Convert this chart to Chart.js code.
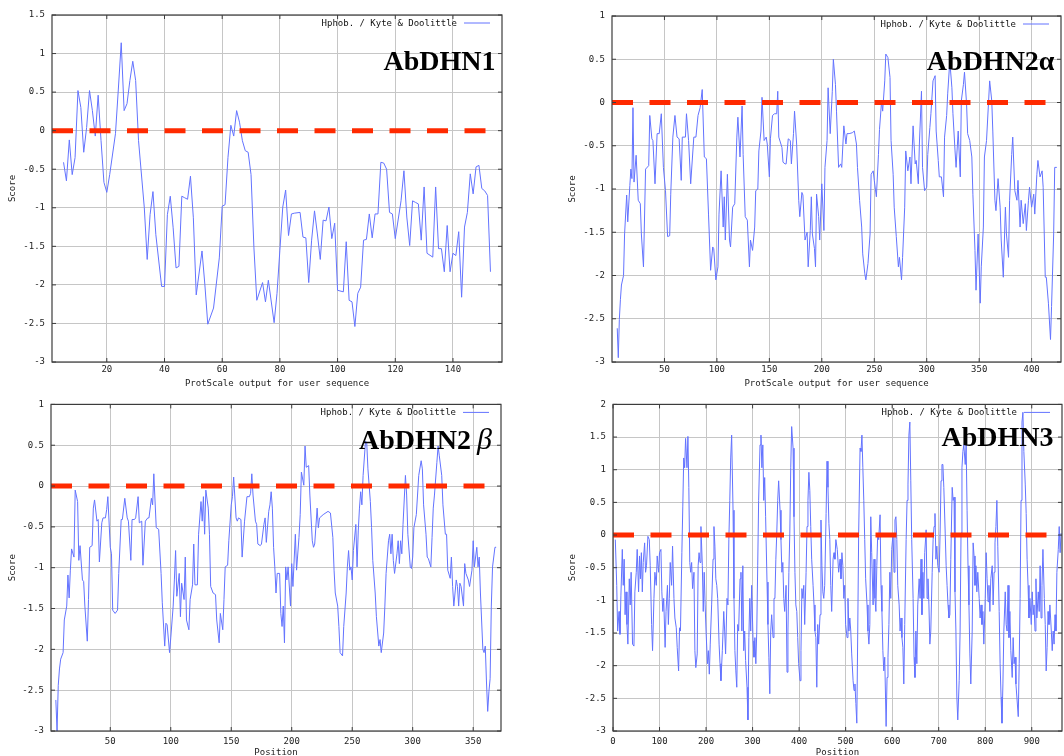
<!DOCTYPE html>
<html>
<head>
<meta charset="utf-8">
<script src="https://cdn.jsdelivr.net/npm/chart.js@4.4.1/dist/chart.umd.min.js"></script>
<style>
  html, body { margin: 0; padding: 0; background: #fff; overflow: hidden; }
  #page { position: relative; width: 1064px; height: 756px; overflow: hidden; background: #fff; }
  #page canvas { position: absolute; }
</style>
</head>
<body>
<div id="page">
  <canvas id="dhn1" width="532" height="392" style="left:0;top:0;width:532px;height:392px"></canvas>
  <canvas id="dhn2a" width="504" height="392" style="left:560px;top:0;width:504px;height:392px"></canvas>
  <canvas id="dhn2b" width="532" height="370" style="left:0;top:392px;width:532px;height:370px"></canvas>
  <canvas id="dhn3" width="504" height="370" style="left:560px;top:392px;width:504px;height:370px"></canvas>
</div>
<script>
// Kyte & Doolittle hydropathy (position, score)
const zeroLevel = 0;

const dhn1Pos = [5,6,7,8,9,10,11,12,13,14,15,16,17,18,19,20,21,
  23,24,25,26,27,28,29,30,31, 33,34,35,36,37,
  39,40,41,42,43,44,45,46,47,48,49,50,51, 53,54,55, 57,
  59,60,61,62,63,64,65,66,67,68,69,70,71,72, 74,75,76,
  78,79,80,81,82,83,84,85, 87,88,89,90,91,92,93,94,95,96,97,98,99,100,
  102,103,104,105,106,107,108,109,110,111,112,113,114,115,116,117,118,119,120,
  122,123,124,125,126,127,128,129,130,131,
  133,134,135,136,137,138,139,140,141,142,143,144,145,146,147,148,149,150,151,152,153];
const dhn1Score = [-0.41,-0.65,-0.12,-0.57,-0.35,0.52,0.3,-0.28,0.04,0.52,0.26,-0.07,0.46,-0.13,-0.67,-0.8,-0.57,
  -0.04,0.54,1.14,0.26,0.35,0.65,0.9,0.65,-0.13, -1.0,-1.67,-1.09,-0.79,-1.35,
  -2.02,-2.02,-1.09,-0.85,-1.26,-1.78,-1.76,-0.85,-0.87,-0.89,-0.59,-1.13,-2.13, -1.56,-2.0,-2.51, -2.3,
  -1.65,-0.98,-0.96,-0.35,0.07,-0.07,0.26,0.11,-0.13,-0.26,-0.28,-0.57,-1.52,-2.2, -1.97,-2.22,-1.94,
  -2.49,-2.11,-1.55,-0.99,-0.77,-1.36,-1.08,-1.07, -1.06,-1.38,-1.39,-1.97,-1.42,-1.04,-1.34,-1.67,-1.16,-1.17,-0.99,-1.4,-1.2,-2.07,
  -2.09,-1.44,-2.2,-2.22,-2.54,-2.11,-2.03,-1.42,-1.41,-1.08,-1.39,-1.08,-1.08,-0.41,-0.42,-0.5,-1.06,-1.08,-1.4,
  -0.91,-0.52,-1.12,-1.49,-0.91,-0.93,-0.95,-1.42,-0.73,-1.59,
  -1.64,-0.73,-1.53,-1.53,-1.83,-1.23,-1.83,-1.59,-1.62,-1.31,-2.16,-1.25,-1.06,-0.56,-0.82,-0.47,-0.45,-0.75,-0.78,-0.84,-1.83];

const dhn2aPos = [
  5,6,7,8,9,11,12,14,15,17,
  18,19,20,21,23,25,27,28,30,32,
  35,36,38,39,41,43,45,47,49,51,
  53,55,56,58,60,62,64,66,67,70,
  71,73,75,78,80,82,84,86,88,90,
  92,94,96,97,99,101,102,104,106,107,
  108,110,112,113,115,117,119,120,122,124,
  125,127,129,131,132,134,136,137,139,140,
  142,143,145,147,148,150,151,153,155,157,
  158,159,162,163,165,166,168,170,171,173,
  174,176,178,179,181,182,184,186,187,189,
  190,191,193,194,195,197,198,200,202,203,
  205,206,208,210,211,213,214,216,218,219,
  221,223,224,226,229,231,233,234,236,238,
  239,241,242,244,246,247,249,250,252,254,
  255,257,258,260,261,263,265,266,268,269,
  271,273,274,276,277,279,280,282,284,285,
  287,289,290,292,293,295,296,298,300,301,
  303,304,306,308,309,311,312,314,316,317,
  319,320,322,324,325,327,328,330,332,333,
  335,336,338,339,341,343,344,346,347,349,
  351,352,354,355,357,359,360,362,363,365,
  366,368,370,371,373,375,376,378,379,381,
  382,384,386,387,389,390,392,394,395,397,
  398,400,402,403,405,406,408,410,411,413,
  414,416,418,419,421,422,424];
const dhn2aScore = [
  -2.61,-2.95,-2.51,-2.28,-2.11,-2.0,-1.52,-1.07,-1.38,-0.96,
  -0.77,-0.88,-0.06,-0.92,-0.61,-1.13,-1.17,-1.52,-1.9,-0.77,
  -0.73,-0.15,-0.42,-0.44,-0.94,-0.36,-0.36,-0.13,-0.75,-1.02,
  -1.55,-1.54,-1.06,-0.4,-0.15,-0.4,-0.42,-0.9,-0.4,-0.4,
  -0.13,-0.44,-0.94,-0.4,-0.4,-0.15,-0.06,0.15,-0.63,-0.65,
  -1.29,-1.94,-1.67,-1.69,-2.05,-1.9,-1.29,-0.79,-1.44,-1.09,
  -1.59,-0.83,-1.59,-1.67,-1.21,-1.17,-0.4,-0.17,-0.63,-0.04,
  -0.6,-1.32,-1.36,-1.9,-1.59,-1.71,-1.44,-1.02,-1.0,-0.56,
  -0.33,0.06,-0.44,-0.4,-0.48,-0.86,-0.42,-0.15,-0.13,-0.13,
  0.13,-0.4,-0.52,-0.69,-0.71,-0.71,-0.42,-0.44,-0.71,-0.36,
  -0.1,-0.48,-1.13,-1.32,-1.04,-1.07,-1.59,-1.5,-1.9,-1.48,
  -1.09,-1.52,-1.69,-1.9,-1.06,-1.32,-1.59,-0.94,-1.48,-0.75,
  -0.44,0.17,-0.36,0.13,0.5,0.21,-0.1,-0.75,-0.71,-0.75,
  -0.27,-0.48,-0.36,-0.36,-0.35,-0.33,-0.48,-0.75,-1.13,-1.44,
  -1.75,-1.98,-2.05,-1.86,-1.52,-0.83,-0.79,-0.9,-1.09,-0.6,
  -0.31,0.02,-0.1,0.25,0.56,0.52,0.29,-0.44,-0.83,-1.21,
  -1.55,-1.9,-1.79,-2.05,-1.79,-1.21,-0.56,-0.79,-0.63,-0.94,
  -0.27,-0.71,-0.67,-0.94,-0.48,0.13,-0.75,-1.02,-0.98,-0.6,
  -0.29,-0.13,0.25,0.31,-0.33,-0.67,-0.86,-0.86,-1.09,-0.4,
  -0.15,0.1,0.48,0.17,-0.13,-0.56,-0.75,-0.33,-0.86,0.02,
  0.21,0.35,-0.02,-0.36,-0.44,-0.63,-1.06,-1.71,-2.17,-1.52,
  -2.32,-1.9,-1.44,-0.63,-0.44,0.02,0.25,0.02,-0.33,-1.13,
  -1.25,-0.88,-1.21,-1.59,-2.02,-1.21,-1.52,-1.79,-1.13,-0.6,
  -0.4,-1.02,-1.13,-0.9,-1.44,-1.13,-1.4,-1.17,-1.48,-1.13,
  -0.98,-1.21,-1.06,-1.29,-0.83,-0.67,-0.86,-0.79,-0.98,-2.02,
  -2.02,-2.32,-2.74,-2.36,-1.52,-0.75,-0.75];

const dhn2bPos = [
  5,6,7,8,9,11,12,14,15,16,
  17,18,20,21,23,24,25,27,28,29,
  31,32,33,35,36,37,39,40,41,43,
  44,46,47,48,50,51,52,54,56,57,
  59,60,62,64,65,67,68,70,71,73,
  74,76,77,79,81,82,84,85,86,88,
  90,92,93,95,96,97,99,100,102,103,
  104,105,107,108,109,111,112,113,115,116,
  118,119,120,122,123,125,126,127,128,129,
  131,132,133,135,137,138,140,141,143,144,
  145,147,148,150,151,152,154,155,156,158,
  159,161,163,165,166,167,168,170,171,172,
  174,175,177,178,179,181,182,183,184,185,
  186,187,188,190,191,192,193,194,195,196,
  197,199,200,201,203,204,206,207,208,210,
  211,212,214,215,217,218,219,221,222,223,
  226,230,232,234,235,236,238,239,240,242,
  243,245,246,247,248,249,250,251,253,254,
  255,256,257,258,259,261,262,263,265,266,
  267,269,270,272,273,274,276,277,278,280,
  281,282,283,284,285,287,288,289,290,291,
  292,294,295,296,298,299,300,301,303,304,
  305,307,308,309,311,312,313,315,316,317,
  318,320,321,322,324,325,327,328,329,331,
  332,333,334,336,337,338,339,340,342,343,
  344,346,347,349,350,351,353,354,355,356,
  358,359,360,361,362,363,364,365,366,368,
  369];
const dhn2bScore = [
  -2.62,-3.0,-2.44,-2.24,-2.12,-2.04,-1.64,-1.47,-1.09,-1.37,
  -1.03,-0.77,-0.87,-0.05,-0.19,-0.91,-0.73,-1.15,-1.17,-1.47,
  -1.9,-1.39,-0.75,-0.73,-0.27,-0.17,-0.43,-0.41,-0.93,-0.45,
  -0.39,-0.39,-0.29,-0.13,-0.75,-0.83,-1.52,-1.56,-1.52,-1.07,
  -0.41,-0.41,-0.15,-0.39,-0.43,-0.91,-0.41,-0.41,-0.39,-0.13,
  -0.45,-0.43,-0.97,-0.43,-0.39,-0.39,-0.15,-0.23,0.15,-0.51,
  -0.53,-1.07,-1.43,-1.96,-1.68,-1.7,-2.04,-1.86,-1.47,-1.15,
  -0.79,-1.35,-1.07,-1.6,-1.19,-1.39,-0.87,-1.64,-1.76,-1.39,
  -1.21,-0.71,-1.21,-1.21,-0.59,-0.19,-0.43,-0.13,-0.59,-0.05,
  -0.27,-0.59,-1.23,-1.31,-1.33,-1.64,-1.92,-1.56,-1.76,-1.39,
  -0.99,-0.97,-0.67,-0.23,-0.13,0.11,-0.39,-0.43,-0.39,-0.41,
  -0.87,-0.43,-0.13,-0.13,-0.09,0.15,-0.11,-0.43,-0.47,-0.71,
  -0.73,-0.71,-0.47,-0.39,-0.69,-0.31,-0.23,-0.07,-0.27,-0.75,
  -0.99,-1.31,-1.07,-1.07,-1.56,-1.72,-1.47,-1.92,-0.99,-1.15,
  -0.99,-1.47,-0.95,-1.23,-0.59,-1.03,-0.63,-0.35,0.17,0.01,
  0.49,0.23,0.25,-0.11,-0.67,-0.75,-0.71,-0.27,-0.51,-0.39,
  -0.35,-0.31,-0.33,-0.63,-1.03,-1.31,-1.47,-1.72,-2.04,-2.08,
  -1.72,-1.31,-0.99,-0.79,-1.03,-0.99,-1.15,-0.79,-0.47,-0.99,
  -0.55,-0.27,-0.07,-0.23,0.13,0.55,0.53,0.21,-0.19,-0.51,
  -0.91,-1.31,-1.6,-1.96,-1.88,-2.04,-1.8,-1.47,-1.07,-0.67,
  -0.59,-0.83,-0.59,-0.91,-1.07,-0.83,-0.67,-0.95,-0.67,-0.83,
  -0.47,0.13,-0.11,-0.59,-0.99,-1.01,-0.87,-0.51,-0.35,-0.11,
  0.13,0.31,0.21,-0.23,-0.59,-0.87,-0.89,-0.99,-0.63,-0.27,
  -0.11,0.29,0.49,0.37,0.13,-0.23,-0.59,-0.59,-1.03,-1.13,
  -0.87,-1.23,-1.47,-1.15,-1.23,-1.47,-1.19,-1.23,-1.47,-0.95,
  -1.07,-1.15,-1.23,-1.03,-0.67,-0.99,-0.75,-0.99,-0.87,-1.31,
  -2.0,-2.04,-1.96,-2.4,-2.76,-2.52,-2.36,-1.47,-0.99,-0.75,
  -0.75];

const dhn3Pos = [
  5,8,10,13,15,17,20,22,24,26,
  28,30,32,35,37,39,42,45,47,50,
  52,55,57,59,61,63,65,68,70,72,
  75,78,80,83,85,88,90,93,95,98,
  100,103,105,107,109,112,114,117,119,121,
  123,126,128,131,133,136,138,141,143,145,
  148,150,152,154,156,159,161,163,165,167,
  169,171,174,176,178,181,183,185,187,189,
  192,194,196,198,200,203,205,207,209,212,
  215,217,219,221,223,225,228,230,232,235,
  238,240,242,245,247,249,251,253,255,258,
  260,262,264,266,268,270,273,275,277,279,
  281,283,285,288,290,292,294,296,298,301,
  303,305,307,309,311,313,316,318,320,322,
  324,326,328,331,333,335,337,339,341,344,
  346,348,350,352,354,356,359,361,363,365,
  367,369,372,374,376,378,380,382,384,387,
  389,391,393,395,397,399,402,404,406,408,
  410,412,415,417,419,421,423,425,427,430,
  432,434,436,438,440,442,445,447,449,451,
  453,455,458,460,462,464,466,468,470,473,
  475,477,479,482,485,488,490,492,494,496,
  498,500,503,505,507,509,511,513,516,518,
  520,522,524,526,528,531,533,535,537,539,
  541,543,546,548,550,552,554,556,559,561,
  563,565,567,569,571,574,576,578,580,582,
  584,587,589,591,593,595,597,599,602,604,
  606,608,610,612,615,617,619,621,623,625,
  627,630,632,634,636,638,640,642,645,647,
  649,651,653,655,658,660,662,664,666,668,
  670,673,675,677,679,681,683,686,688,690,
  692,694,696,698,701,703,705,707,709,711,
  714,716,718,720,722,724,726,729,731,733,
  735,737,739,741,744,746,748,750,752,754,
  757,759,761,763,765,767,769,772,774,776,
  778,780,782,784,787,789,791,793,795,797,
  800,802,804,806,808,810,812,815,817,819,
  821,823,825,827,830,832,834,836,838,840,
  843,845,847,849,851,853,855,858,860,862,
  864,866,868,871,873,875,877,879,881,883,
  886,888,890,892,894,896,899,901,903,905,
  907,909,911,914,916,918,920,922,924,927,
  929,931,933,935,937,939,942,944,946,948,
  950,952,954,957,959,961,963];
const dhn3Score = [
  -0.07,-0.77,-1.47,-1.17,-1.52,-0.92,-0.22,-0.77,-0.37,-1.22,
  -0.87,-1.37,-1.67,-0.67,-1.07,-0.57,-1.67,-1.7,-0.87,-0.57,
  -0.22,-0.87,-0.32,-0.67,-0.27,-0.87,-0.42,-0.12,-0.57,-0.47,
  -0.02,-0.07,-0.47,-1.37,-1.77,-0.97,-0.57,-0.77,-0.32,-0.57,
  -0.27,-0.22,-0.87,-1.17,-0.97,-1.72,-1.17,-0.77,-1.37,-0.97,
  -0.42,-0.77,-0.17,-0.97,-1.27,-1.42,-1.72,-2.08,-1.42,-1.47,
  -0.27,0.43,1.18,1.03,1.48,1.03,1.51,0.73,-0.42,-0.57,
  -0.42,-0.82,-0.57,-1.77,-2.03,-1.82,-0.47,-0.27,-0.42,0.13,
  -0.47,-1.17,-0.57,-1.07,-1.47,-1.97,-1.77,-2.13,-1.67,-1.07,
  -0.37,0.13,-0.17,-0.67,-0.77,-0.97,-1.67,-1.97,-2.23,-1.77,
  -1.17,-1.47,-1.82,-0.97,-1.07,-0.07,0.53,1.18,1.53,0.38,
  -0.97,-1.77,-2.08,-2.33,-1.37,-1.47,-0.67,-0.57,-1.47,-0.47,
  -1.77,-1.47,-1.92,-2.33,-2.83,-1.57,-0.97,-1.47,-0.77,-1.62,
  -1.87,-1.57,-1.97,-1.47,-0.47,0.53,1.38,1.53,1.03,1.38,
  0.53,0.88,0.28,-0.72,-1.37,-1.87,-2.43,-1.47,-1.22,-1.57,
  -0.97,-0.97,-0.37,0.03,0.53,0.83,0.38,-0.07,-0.57,-0.42,
  -0.97,-1.17,-0.77,-2.1,-1.47,-0.57,0.03,1.03,1.66,1.33,
  0.28,-0.57,-1.07,-1.17,-1.57,-1.97,-2.23,-1.77,-0.82,-0.97,
  -0.77,-1.37,-0.57,0.13,0.53,0.96,0.68,0.13,-0.37,-0.77,
  -1.07,-1.47,-1.57,-2.33,-1.37,-1.67,-1.22,0.23,-0.47,-0.87,
  -0.97,-0.77,0.33,1.13,0.73,0.18,-0.07,-0.77,-1.17,-0.37,
  -0.27,-0.37,-0.07,-0.22,-0.57,-0.37,-0.67,-0.27,-0.47,-0.97,
  -0.77,-1.37,-1.57,-0.97,-1.47,-1.27,-1.47,-1.82,-2.23,-2.38,
  -2.28,-2.58,-2.88,-1.47,0.03,1.33,1.28,1.53,1.03,0.53,
  -0.07,-0.67,-1.07,-1.47,-1.67,-1.37,0.28,-0.27,-1.07,-0.37,
  -0.97,-1.17,-0.47,0.03,-0.07,0.31,-0.77,-1.17,-1.77,-2.08,
  -1.87,-2.93,-2.18,-1.87,-1.37,-0.57,-0.97,-0.22,0.03,-0.57,
  0.23,0.28,-0.07,-0.77,-1.07,-1.47,-1.27,-1.57,-1.72,-2.28,
  -1.37,-0.07,0.53,0.78,1.53,1.73,0.83,-0.07,-0.97,-1.87,
  -2.18,-1.47,-1.97,-1.07,-0.67,-0.97,-0.37,-1.22,-0.57,-0.97,
  -0.27,0.08,-0.97,-0.67,-1.07,-1.67,-1.47,-0.57,-0.07,0.13,
  0.33,-0.37,-0.17,-0.47,-0.57,0.03,0.83,1.08,1.08,0.73,
  0.03,-0.47,-0.77,-1.07,-1.27,-1.22,-0.37,0.73,0.53,0.58,
  -0.87,-1.47,-2.48,-2.83,-2.23,-1.47,0.03,1.03,1.28,1.38,
  1.08,1.38,0.38,-0.47,-1.07,-1.82,-2.28,-1.47,-0.12,-0.32,
  -0.77,-0.47,-0.87,-0.57,-0.97,-1.27,-1.07,-1.37,-1.17,-1.67,
  -0.97,-0.27,-0.67,-1.02,-0.77,-1.17,-0.67,-0.47,-1.07,-0.57,
  -0.12,0.13,0.53,-0.17,-1.17,-1.97,-2.48,-2.88,-2.28,-1.47,
  -0.87,-1.37,-1.47,-0.77,-1.57,-1.17,-1.77,-2.18,-1.57,-1.97,
  -1.87,-2.28,-2.48,-2.78,-1.97,-0.97,0.53,1.73,1.88,1.28,
  0.78,0.33,-0.37,-0.77,-1.27,-0.97,-1.37,-0.87,-1.22,-1.07,
  -1.47,-0.67,-1.27,-0.87,-1.17,-0.47,-1.27,-0.77,-0.22,-0.97,
  -1.37,-2.08,-1.72,-1.17,-1.37,-1.07,-1.47,-1.77,-1.47,-1.67,
  -1.22,-1.47,-0.57,-0.22,0.13,-0.27,0.03];

// axis ranges and tick labels
const dhn1XTicks = [20, 40, 60, 80, 100, 120, 140];
const dhn2aXTicks = [50, 100, 150, 200, 250, 300, 350, 400];
const dhn2bXTicks = [50, 100, 150, 200, 250, 300, 350];
const dhn3XTicks = [0, 100, 200, 300, 400, 500, 600, 700, 800, 900];

const monoFont = { family: '"DejaVu Sans Mono", monospace', size: 9 };
const gridColor = '#c6c6c6';
const lineBlue = '#6373ff';

// frame, mirrored ticks, legend and the big protein name
const panelDecor = {
  id: 'panelDecor',
  afterDraw(chart, args, opts) {
    const { ctx, chartArea: a, scales } = chart;
    ctx.save();
    ctx.strokeStyle = '#3c3c3c';
    ctx.lineWidth = 1.2;
    ctx.strokeRect(a.left, a.top, a.right - a.left, a.bottom - a.top);
    ctx.lineWidth = 1;
    ctx.beginPath();
    scales.x.ticks.forEach(t => {
      const px = scales.x.getPixelForValue(t.value);
      ctx.moveTo(px, a.top); ctx.lineTo(px, a.top + 4);
      ctx.moveTo(px, a.bottom); ctx.lineTo(px, a.bottom - 4);
    });
    scales.y.ticks.forEach(t => {
      const py = scales.y.getPixelForValue(t.value);
      ctx.moveTo(a.left, py); ctx.lineTo(a.left + 4, py);
      ctx.moveTo(a.right, py); ctx.lineTo(a.right - 4, py);
    });
    ctx.stroke();

    // legend
    ctx.font = '9px "DejaVu Sans Mono", monospace';
    ctx.fillStyle = '#111';
    ctx.textAlign = 'right';
    ctx.textBaseline = 'middle';
    ctx.fillText('Hphob. / Kyte & Doolittle', a.right - 45, a.top + 8.5);
    ctx.strokeStyle = lineBlue;
    ctx.beginPath();
    ctx.moveTo(a.right - 38, a.top + 8);
    ctx.lineTo(a.right - 12, a.top + 8);
    ctx.stroke();

    // protein name
    ctx.fillStyle = '#000';
    ctx.textBaseline = 'alphabetic';
    let x = a.right - opts.nameRight;
    const y = a.top + opts.nameBase;
    if (opts.greek) {
      ctx.font = 'italic 30px "Liberation Serif", serif';
      ctx.fillText(opts.greek, x, y);
      x -= ctx.measureText(opts.greek).width + 6;
    }
    ctx.font = 'bold 28px "Liberation Serif", serif';
    ctx.fillText(opts.name, x, y);
    ctx.restore();
  }
};

function drawPanel(cfg) {
  const points = cfg.pos.map((p, i) => ({ x: p, y: cfg.score[i] }));
  new Chart(document.getElementById(cfg.id), {
    type: 'line',
    data: {
      datasets: [
        {
          data: [{ x: cfg.xMin, y: zeroLevel }, { x: cfg.xMax, y: zeroLevel }],
          borderColor: '#ff2a00',
          borderWidth: 5,
          borderDash: [21, 16.5],
          borderCapStyle: 'butt',
          pointRadius: 0
        },
        {
          data: points,
          borderColor: lineBlue,
          borderWidth: 1,
          pointRadius: 0,
          tension: 0
        }
      ]
    },
    options: {
      responsive: false,
      animation: false,
      devicePixelRatio: 1,
      layout: { padding: cfg.padding },
      plugins: {
        legend: { display: false },
        tooltip: { enabled: false },
        panelDecor: { name: cfg.name, greek: cfg.greek, nameRight: cfg.nameRight, nameBase: cfg.nameBase }
      },
      scales: {
        x: {
          type: 'linear',
          min: cfg.xMin,
          max: cfg.xMax,
          afterBuildTicks: s => { s.ticks = cfg.xTicks.map(v => ({ value: v })); },
          afterFit: s => { s.height = cfg.xHeight; },
          grid: { color: gridColor, drawTicks: false },
          border: { display: false },
          ticks: { font: monoFont, color: '#222', padding: cfg.xTickPad, maxRotation: 0, autoSkip: false },
          title: { display: true, text: cfg.xTitle, font: monoFont, color: '#222', padding: { top: 0, bottom: cfg.xTitlePad } }
        },
        y: {
          min: cfg.yMin,
          max: cfg.yMax,
          afterFit: s => { s.width = cfg.yWidth; },
          grid: { color: gridColor, drawTicks: false },
          border: { display: false },
          ticks: {
            stepSize: 0.5, font: monoFont, color: '#222', padding: 7,
            callback: v => String(Math.round(v * 10) / 10)
          },
          title: { display: true, text: 'Score', font: monoFont, color: '#222', padding: { top: 7.5, bottom: 0 } }
        }
      }
    },
    plugins: [panelDecor]
  });
}

drawPanel({ id: 'dhn1', pos: dhn1Pos, score: dhn1Score, xMin: 1, xMax: 157, xTicks: dhn1XTicks,
  yMin: -3, yMax: 1.5, yWidth: 52, xHeight: 30, padding: { top: 15, right: 30, left: 0, bottom: 0 },
  xTickPad: 2, xTitle: 'ProtScale output for user sequence', xTitlePad: 2.5,
  name: 'AbDHN1', nameRight: 6.5, nameBase: 55 });

drawPanel({ id: 'dhn2a', pos: dhn2aPos, score: dhn2aScore, xMin: 0, xMax: 428, xTicks: dhn2aXTicks,
  yMin: -3, yMax: 1, yWidth: 52, xHeight: 30, padding: { top: 16, right: 3, left: 0, bottom: 0 },
  xTickPad: 2, xTitle: 'ProtScale output for user sequence', xTitlePad: 2.5,
  name: 'AbDHN2\u03b1', nameRight: 6.5, nameBase: 54 });

drawPanel({ id: 'dhn2b', pos: dhn2bPos, score: dhn2bScore, xMin: 1, xMax: 373, xTicks: dhn2bXTicks,
  yMin: -3, yMax: 1, yWidth: 51, xHeight: 31, padding: { top: 6, right: 31, left: 0, bottom: 0 },
  xTickPad: 5, xTitle: 'Position', xTitlePad: 3.8,
  name: 'AbDHN2', greek: '\u03b2', nameRight: 9, nameBase: 44.4 });

drawPanel({ id: 'dhn3', pos: dhn3Pos, score: dhn3Score, xMin: 0, xMax: 965, xTicks: dhn3XTicks,
  yMin: -3, yMax: 2, yWidth: 53, xHeight: 31, padding: { top: 6, right: 2, left: 0, bottom: 0 },
  xTickPad: 5, xTitle: 'Position', xTitlePad: 3.8,
  name: 'AbDHN3', nameRight: 8.5, nameBase: 41.7 });
</script>
</body>
</html>
